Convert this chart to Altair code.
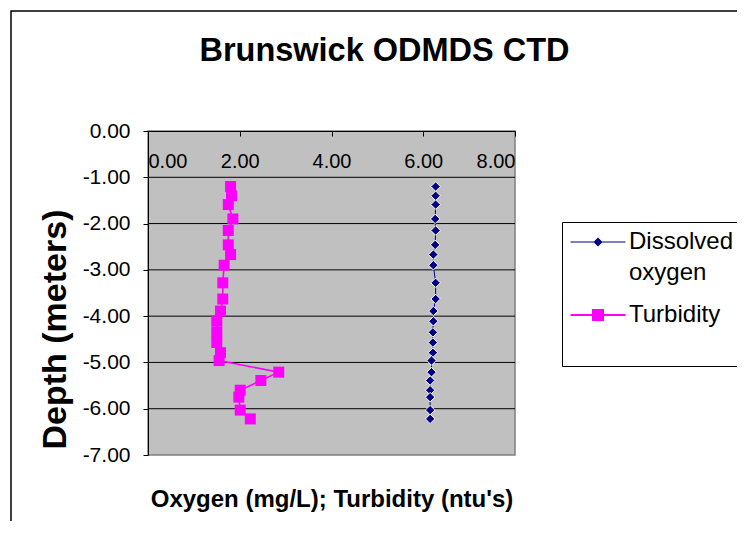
import altair as alt
import pandas as pd

# ---- data ----
depth = [-1.20, -1.40, -1.59, -1.90, -2.15, -2.46, -2.67, -2.90, -3.28, -3.63, -3.89,
         -4.11, -4.35, -4.57, -4.79, -4.96, -5.21, -5.39, -5.60, -5.75, -6.03, -6.22]
dissolved_oxygen = [6.27, 6.27, 6.27, 6.26, 6.27, 6.26, 6.22, 6.22, 6.27, 6.27, 6.22,
                    6.22, 6.21, 6.21, 6.21, 6.18, 6.18, 6.15, 6.15, 6.15, 6.15, 6.15]
turbidity = [1.80, 1.82, 1.75, 1.85, 1.75, 1.75, 1.80, 1.66, 1.63, 1.63, 1.58,
             1.50, 1.50, 1.50, 1.58, 1.55, 2.85, 2.46, 2.01, 1.98, 2.01, 2.23]
series_names = ["Dissolved oxygen", "Turbidity"]
series_colors = ["#000080", "#FF00FF"]
x_ticks = [0, 2, 4, 6, 8]
y_ticks = [0, -1, -2, -3, -4, -5, -6, -7]
x_range = [0, 8]
y_range = [-7, 0]

rows = []
for name, vals in zip(series_names, [dissolved_oxygen, turbidity]):
    for i, (d, v) in enumerate(zip(depth, vals)):
        rows.append({"series": name, "value": v, "depth": d, "idx": i})
df = pd.DataFrame(rows)

FONT = "Liberation Sans, Arial, sans-serif"
W, H = 367, 324

xscale = alt.Scale(domain=x_range, nice=False)
yscale = alt.Scale(domain=y_range, nice=False)

minus_fix = "replace(format(datum.value, '.2f'), '\u2212', '-')"

x_axis = alt.Axis(orient="bottom", offset=-H, values=x_ticks, labelExpr=minus_fix,
                  grid=False, domainColor="black", domainWidth=1, tickColor="black",
                  tickSize=5, labelPadding=15, labelFontSize=20, labelFont=FONT,
                  labelColor="black", title="Oxygen (mg/L); Turbidity (ntu's)",
                  titleFont=FONT, titleFontSize=24, titleFontWeight="bold",
                  titleColor="black", titleY=375, titleBaseline="alphabetic", zindex=1)
y_axis = alt.Axis(values=y_ticks, labelExpr=minus_fix, grid=False,
                  domainColor="black", domainWidth=1,
                  tickColor="black", tickSize=5, labelPadding=13, labelFontSize=21,
                  labelFont=FONT, labelColor="black", title="Depth (meters)",
                  titleFont=FONT, titleFontSize=34, titleFontWeight="bold",
                  titleColor="black", titleX=-93, titleY=198, titleBaseline="middle",
                  titleAngle=270, zindex=1)

# legend symbols: a line segment with the series marker in its middle
do_path = ("M-2.29,-0.05H2.29V0.05H-2.29Z "
           "M0,-0.375L0.375,0L0,0.375L-0.375,0Z")
tu_path = ("M-2.29,-0.083H2.29V0.083H-2.29Z "
           "M-0.5,-0.5H0.5V0.5H-0.5Z")

def make_legend():
    return alt.Legend(
        orient="none", legendX=414, legendY=91, title=None,
        symbolSize=576, symbolStrokeWidth=0, symbolOpacity=1, symbolOffset=16,
        labelFontSize=24, labelFont=FONT, labelColor="black", labelOffset=19,
        padding=8, rowPadding=18, strokeColor="black", fillColor="white",
        labelLimit=300,
        labelExpr="datum.label == 'Dissolved oxygen' ? ['Dissolved', 'oxygen'] : [datum.label, '']",
    )

one = pd.DataFrame({"k": [0]})

# outer chart-area frame
frame = alt.Chart(one).mark_rect(
    filled=False, fillOpacity=0, stroke="black", strokeWidth=1.5
).encode(x=alt.value(-137), x2=alt.value(620), y=alt.value(-120), y2=alt.value(420))

# grey plot area
plot_bg = alt.Chart(one).mark_rect(
    fill="#C0C0C0", stroke="#808080", strokeWidth=1.5
).encode(
    x=alt.XDatum(x_range[0], scale=xscale, axis=x_axis),
    x2=alt.X2Datum(x_range[1]),
    y=alt.YDatum(y_range[0], scale=yscale, axis=y_axis),
    y2=alt.Y2Datum(y_range[1]),
)

# horizontal gridlines
grid = alt.Chart(pd.DataFrame({"tick": y_ticks[1:-1]})).mark_rule(
    color="black", strokeWidth=1
).encode(y=alt.Y("tick:Q", scale=yscale, axis=y_axis))

lines = alt.Chart(df).mark_line().encode(
    x=alt.X("value:Q", scale=xscale, axis=x_axis),
    y=alt.Y("depth:Q", scale=yscale, axis=y_axis),
    color=alt.Color("series:N", scale=alt.Scale(domain=series_names, range=series_colors), legend=None),
    strokeWidth=alt.StrokeWidth("series:N", scale=alt.Scale(domain=series_names, range=[1, 1.6]), legend=None),
    order="idx:Q",
)

points = alt.Chart(df).mark_point(filled=True, opacity=1, stroke="white").encode(
    x=alt.X("value:Q", scale=xscale, axis=x_axis),
    y=alt.Y("depth:Q", scale=yscale, axis=y_axis),
    color=alt.Color("series:N", scale=alt.Scale(domain=series_names, range=series_colors), legend=None),
    shape=alt.Shape("series:N", scale=alt.Scale(domain=series_names, range=["diamond", "square"]), legend=None),
    size=alt.Size("series:N", scale=alt.Scale(domain=series_names, range=[90, 121]), legend=None),
    strokeWidth=alt.condition("datum.series == 'Dissolved oxygen'", alt.value(1), alt.value(0)),
)

legend_layer = alt.Chart(df).transform_filter("false").mark_point(
    filled=True, opacity=1
).encode(
    color=alt.Color("series:N", scale=alt.Scale(domain=series_names, range=series_colors), legend=make_legend()),
    shape=alt.Shape("series:N", scale=alt.Scale(domain=series_names, range=[do_path, tu_path]), legend=make_legend()),
)

chart = alt.layer(frame, plot_bg, grid, lines, points, legend_layer).resolve_scale(
    color="independent", shape="independent"
).properties(
    width=W, height=H,
    padding={"left": 140, "top": 123, "right": 222, "bottom": 66},
    autosize=alt.AutoSizeParams(type="none"),
    title=alt.TitleParams("Brunswick ODMDS CTD", font=FONT, fontSize=32.5, fontWeight="bold",
                          color="black", anchor="middle", baseline="alphabetic",
                          offset=0, dx=53, dy=83),
).configure(
    view=alt.ViewConfig(stroke="transparent"),
    style={"guide-label": {"lineHeight": 31}},
)

chart.save("out.html", embed_options={"renderer": "svg", "actions": False})
